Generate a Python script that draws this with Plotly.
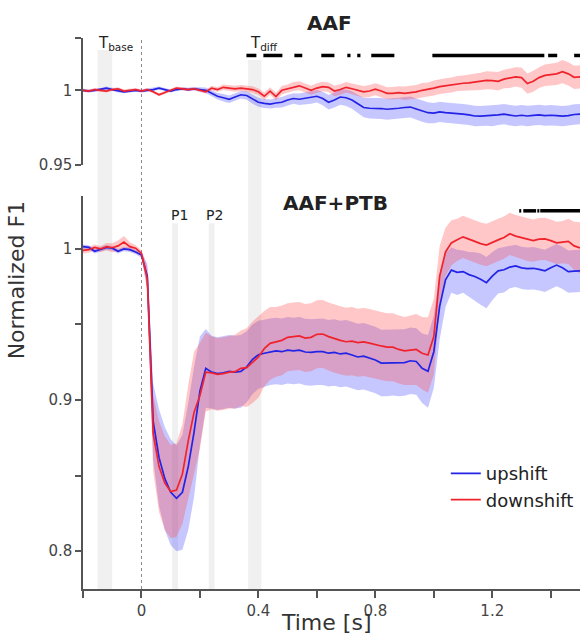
import plotly.graph_objects as go

# ---------------- data ----------------
t = [round(-0.2 + 0.02 * i, 2) for i in range(86)]

# AAF panel (top)
aaf_up = [1.0000, 0.9995, 1.0000, 1.0005, 1.0015, 1.0005, 0.9995, 0.9990, 0.9995, 1.0000,
          0.9995, 1.0000, 1.0005, 1.0015, 1.0005, 0.9995, 1.0005, 1.0010, 1.0005, 1.0010,
          1.0005, 1.0000, 0.9980, 0.9960, 0.9950, 0.9940, 0.9955, 0.9970, 0.9965, 0.9940,
          0.9920, 0.9912, 0.9908, 0.9915, 0.9920, 0.9935, 0.9945, 0.9940, 0.9945, 0.9950,
          0.9960, 0.9945, 0.9920, 0.9935, 0.9955, 0.9950, 0.9935, 0.9910, 0.9885, 0.9880,
          0.9880, 0.9878, 0.9873, 0.9875, 0.9880, 0.9885, 0.9888, 0.9875, 0.9860, 0.9850,
          0.9847, 0.9855, 0.9850, 0.9848, 0.9845, 0.9840, 0.9835, 0.9828, 0.9827, 0.9830,
          0.9828, 0.9835, 0.9840, 0.9832, 0.9828, 0.9833, 0.9828, 0.9832, 0.9835, 0.9830,
          0.9833, 0.9830, 0.9827, 0.9830, 0.9838, 0.9840]
aaf_up_err = [0.0010] * 10 + \
    [0.0010] * 8 + [0.0012, 0.0012] + \
    [0.0015, 0.0018, 0.0020, 0.0022, 0.0025, 0.0025, 0.0025, 0.0025, 0.0028, 0.0030] + \
    [0.0030, 0.0030, 0.0030, 0.0032, 0.0035, 0.0035, 0.0035, 0.0038, 0.0040, 0.0040] + \
    [0.0042, 0.0045, 0.0048, 0.0050, 0.0052, 0.0055, 0.0058, 0.0060, 0.0065, 0.0068] + \
    [0.0070] * 10 + [0.0068] * 10 + [0.0068] * 10 + [0.0068] * 6

aaf_dn = [1.0000, 0.9995, 1.0005, 1.0000, 0.9995, 1.0005, 1.0010, 0.9995, 1.0000, 1.0005,
          0.9995, 1.0005, 0.9990, 0.9970, 0.9985, 1.0000, 1.0015, 1.0010, 1.0005, 1.0010,
          1.0000, 0.9990, 1.0015, 1.0005, 1.0020, 1.0015, 1.0010, 1.0015, 1.0010, 1.0005,
          0.9990, 0.9960, 0.9995, 0.9958, 1.0000, 1.0010, 1.0025, 1.0030, 1.0015, 1.0000,
          1.0015, 1.0025, 1.0020, 0.9995, 1.0005, 1.0020, 1.0010, 1.0000, 0.9990, 0.9995,
          1.0007, 0.9995, 0.9980, 0.9980, 0.9985, 0.9980, 0.9985, 0.9990, 1.0000, 1.0005,
          1.0015, 1.0025, 1.0030, 1.0035, 1.0045, 1.0047, 1.0050, 1.0055, 1.0060, 1.0067,
          1.0065, 1.0060, 1.0075, 1.0080, 1.0090, 1.0085, 1.0045, 1.0060, 1.0085, 1.0100,
          1.0105, 1.0110, 1.0125, 1.0110, 1.0087, 1.0090]
aaf_dn_err = [0.0010] * 10 + [0.0010] * 10 + \
    [0.0012, 0.0012, 0.0015, 0.0015, 0.0018, 0.0018, 0.0020, 0.0020, 0.0020, 0.0022] + \
    [0.0022, 0.0025, 0.0025, 0.0025, 0.0028, 0.0028, 0.0030, 0.0030, 0.0030, 0.0030] + \
    [0.0032, 0.0032, 0.0032, 0.0035, 0.0035, 0.0035, 0.0035, 0.0038, 0.0038, 0.0040] + \
    [0.0040, 0.0040, 0.0040, 0.0042, 0.0042, 0.0045, 0.0045, 0.0045, 0.0048, 0.0048] + \
    [0.0050, 0.0050, 0.0050, 0.0050, 0.0050, 0.0052, 0.0055, 0.0055, 0.0058, 0.0060] + \
    [0.0060, 0.0062, 0.0062, 0.0065, 0.0065, 0.0068, 0.0068, 0.0070, 0.0070, 0.0072] + \
    [0.0075, 0.0075, 0.0078, 0.0078, 0.0078, 0.0078]

# AAF+PTB panel (bottom)
ptb_up = [1.0015, 1.0010, 0.9985, 1.0000, 1.0010, 1.0005, 0.9985, 1.0000, 0.9995, 0.9980,
          0.9960, 0.9820, 0.8860, 0.8620, 0.8480, 0.8390, 0.8350, 0.8390, 0.8560, 0.8790,
          0.9060, 0.9210, 0.9185, 0.9175, 0.9180, 0.9190, 0.9185, 0.9190, 0.9220, 0.9270,
          0.9300, 0.9310, 0.9320, 0.9325, 0.9320, 0.9330, 0.9325, 0.9330, 0.9318, 0.9315,
          0.9320, 0.9320, 0.9310, 0.9315, 0.9305, 0.9310, 0.9298, 0.9285, 0.9290, 0.9280,
          0.9265, 0.9245, 0.9245, 0.9250, 0.9245, 0.9248, 0.9260, 0.9255, 0.9210, 0.9190,
          0.9320, 0.9620, 0.9795, 0.9860, 0.9845, 0.9850, 0.9830, 0.9818, 0.9800, 0.9777,
          0.9820, 0.9855, 0.9862, 0.9880, 0.9888, 0.9875, 0.9870, 0.9872, 0.9865, 0.9855,
          0.9875, 0.9893, 0.9875, 0.9850, 0.9853, 0.9855]
ptb_up_err = [0.0015] * 10 + \
    [0.0020, 0.0080, 0.0250, 0.0320, 0.0340, 0.0350, 0.0350, 0.0380, 0.0420, 0.0430] + \
    [0.0360, 0.0260, 0.0240, 0.0240, 0.0240, 0.0240, 0.0240, 0.0240, 0.0235, 0.0230] + \
    [0.0225, 0.0225] + [0.0220] * 8 + \
    [0.0220] * 10 + \
    [0.0220] * 8 + [0.0230, 0.0240] + \
    [0.0240, 0.0220, 0.0180, 0.0150, 0.0150, 0.0140, 0.0150, 0.0160, 0.0170, 0.0170] + \
    [0.0160, 0.0150, 0.0150] + [0.0140] * 7 + \
    [0.0140] * 6

ptb_dn = [0.9990, 0.9995, 1.0010, 1.0000, 1.0015, 1.0008, 1.0020, 1.0045, 1.0015, 1.0005,
          0.9970, 0.9800, 0.8780, 0.8560, 0.8450, 0.8395, 0.8405, 0.8510, 0.8730, 0.8920,
          0.9030, 0.9185, 0.9180, 0.9170, 0.9175, 0.9185, 0.9188, 0.9210, 0.9215, 0.9250,
          0.9285, 0.9340, 0.9375, 0.9385, 0.9395, 0.9415, 0.9420, 0.9424, 0.9410, 0.9415,
          0.9435, 0.9437, 0.9420, 0.9405, 0.9395, 0.9386, 0.9390, 0.9380, 0.9385, 0.9377,
          0.9365, 0.9358, 0.9350, 0.9350, 0.9335, 0.9325, 0.9330, 0.9335, 0.9310, 0.9298,
          0.9420, 0.9820, 0.9980, 1.0040, 1.0060, 1.0080, 1.0065, 1.0049, 1.0035, 1.0026,
          1.0045, 1.0060, 1.0075, 1.0100, 1.0085, 1.0075, 1.0060, 1.0055, 1.0065, 1.0066,
          1.0055, 1.0040, 1.0045, 1.0050, 1.0020, 1.0007]
ptb_dn_err = [0.0020, 0.0020, 0.0020, 0.0020, 0.0025, 0.0030, 0.0035, 0.0040, 0.0030, 0.0020] + \
    [0.0020, 0.0080, 0.0250, 0.0300, 0.0310, 0.0310, 0.0310, 0.0330, 0.0370, 0.0400] + \
    [0.0350, 0.0260, 0.0240, 0.0240, 0.0240, 0.0240, 0.0245, 0.0250, 0.0260, 0.0270] + \
    [0.0270, 0.0250, 0.0240, 0.0230, 0.0230] + [0.0225] * 5 + \
    [0.0225] * 10 + \
    [0.0225] * 6 + [0.0230, 0.0235, 0.0240, 0.0250] + \
    [0.0250, 0.0200, 0.0160, 0.0150] + [0.0140] * 6 + \
    [0.0140] * 10 + \
    [0.0140, 0.0140, 0.0140, 0.0150, 0.0160, 0.0170]

# significance intervals (s)
sig_aaf = [(0.359, 0.393), (0.417, 0.482), (0.523, 0.550), (0.615, 0.660),
           (0.704, 0.715), (0.738, 0.749), (0.786, 0.865), (0.995, 1.378),
           (1.391, 1.422), (1.480, 1.500)]
sig_ptb = [(1.292, 1.299), (1.306, 1.350), (1.354, 1.361), (1.364, 1.500)]

# analysis windows (s)
windows = {"T_base": (-0.15, -0.10), "T_diff": (0.365, 0.41),
           "P1": (0.105, 0.125), "P2": (0.23, 0.25)}

series_names = ["upshift", "downshift"]
x_ticks = [-0.2, 0, 0.2, 0.4, 0.6, 0.8, 1.0, 1.2, 1.4]
x_ticktext = ["", "0", "", "0.4", "", "0.8", "", "1.2", ""]

# ---------------- styles ----------------
BLUE = "rgb(35,35,230)"
RED = "rgb(240,35,45)"
BLUE_FILL = "rgba(70,70,255,0.30)"
RED_FILL = "rgba(255,70,70,0.30)"
AX = "#555555"
FONT = "DejaVu Sans"

fig = go.Figure()


def band(x, m, e, fill, xa, ya):
    up = [a + b for a, b in zip(m, e)]
    lo = [a - b for a, b in zip(m, e)]
    fig.add_trace(go.Scatter(x=x + x[::-1], y=up + lo[::-1], fill="toself",
                             fillcolor=fill, line=dict(width=0), hoverinfo="skip",
                             showlegend=False, xaxis=xa, yaxis=ya, mode="lines"))


def line(x, m, color, name, xa, ya, legend):
    fig.add_trace(go.Scatter(x=x, y=m, mode="lines", line=dict(color=color, width=1.7),
                             name=name, showlegend=legend, xaxis=xa, yaxis=ya))


def sig(intervals, level, xa, ya):
    xs, ys = [], []
    for a, b in intervals:
        xs += [a, b, None]
        ys += [level, level, None]
    fig.add_trace(go.Scatter(x=xs, y=ys, mode="lines", line=dict(color="black", width=3.5),
                             showlegend=False, hoverinfo="skip", xaxis=xa, yaxis=ya))


# top panel
band(t, aaf_up, aaf_up_err, BLUE_FILL, "x", "y")
band(t, aaf_dn, aaf_dn_err, RED_FILL, "x", "y")
line(t, aaf_up, BLUE, series_names[0], "x", "y", False)
line(t, aaf_dn, RED, series_names[1], "x", "y", False)
sig(sig_aaf, 1.0233, "x", "y")

# bottom panel
band(t, ptb_up, ptb_up_err, BLUE_FILL, "x2", "y2")
band(t, ptb_dn, ptb_dn_err, RED_FILL, "x2", "y2")
line(t, ptb_up, BLUE, series_names[0], "x2", "y2", True)
line(t, ptb_dn, RED, series_names[1], "x2", "y2", True)
sig(sig_ptb, 1.0252, "x2", "y2")

# gray analysis windows and zero line
shapes = []
tops = {"T_base": 0.978, "T_diff": 0.96, "P1": 0.664, "P2": 0.664}
for k, (a, b) in windows.items():
    shapes.append(dict(type="rect", xref="x2", yref="paper", x0=a, x1=b, y0=0, y1=tops[k],
                       fillcolor="rgb(240,240,240)", line=dict(width=0), layer="below"))
shapes.append(dict(type="line", xref="x2", yref="paper", x0=0, x1=0, y0=0, y1=1,
                   line=dict(color="#8a8a8a", width=1, dash="dot"), layer="below"))

annotations = [
    dict(text="<b>AAF</b>", x=0.495, y=1.028, xref="paper", yref="paper", showarrow=False,
         xanchor="center", yanchor="middle", font=dict(size=20, color="#222")),
    dict(text="<b>AAF+PTB</b>", x=0.509, y=0.7005, xref="paper", yref="paper", showarrow=False,
         xanchor="center", yanchor="middle", font=dict(size=20, color="#222")),
    dict(text="T<sub>base</sub>", x=-0.155, y=0.99, xref="x2", yref="paper", xanchor="left",
         yanchor="middle", showarrow=False, font=dict(size=15, color="#222")),
    dict(text="T<sub>diff</sub>", x=0.364, y=0.99, xref="x2", yref="paper", xanchor="left",
         yanchor="middle", showarrow=False, font=dict(size=15, color="#222")),
    dict(text="P1", x=0.13, y=0.679, xref="x2", yref="paper", showarrow=False,
         xanchor="center", yanchor="middle", font=dict(size=14, color="#222")),
    dict(text="P2", x=0.25, y=0.679, xref="x2", yref="paper", showarrow=False,
         xanchor="center", yanchor="middle", font=dict(size=14, color="#222")),
    dict(text="Normalized F1", x=-0.133, y=0.56, xref="paper", yref="paper", textangle=-90,
         xanchor="center", yanchor="middle", showarrow=False, font=dict(size=22, color="#333")),
    dict(text="Time [s]", x=0.632, y=-0.06, xref="x2", yref="paper", showarrow=False,
         xanchor="center", yanchor="middle", font=dict(size=22, color="#333")),
]

yax = dict(showline=True, linecolor=AX, linewidth=1.5, ticks="outside", ticklen=6,
           tickwidth=1.5, tickcolor=AX, showgrid=False, zeroline=False,
           tickfont=dict(size=15, color="#444"))

fig.update_layout(
    width=580, height=637,
    margin=dict(l=83, r=0, t=38, b=48),
    paper_bgcolor="white", plot_bgcolor="white",
    font=dict(family=FONT, color="#333"),
    xaxis=dict(domain=[0, 1], anchor="y", range=[-0.2, 1.5], visible=False),
    yaxis=dict(domain=[0.7695, 1], anchor="x", range=[0.95, 1.035],
               tickvals=[0.95, 1.0, 1.035], ticktext=["0.95", "1", ""], **yax),
    xaxis2=dict(domain=[0, 1], anchor="y2", range=[-0.2, 1.5], showline=True,
                linecolor=AX, linewidth=1.5, ticks="outside", ticklen=7, tickwidth=1.5,
                tickcolor=AX, showgrid=False, zeroline=False, tickvals=x_ticks,
                ticktext=x_ticktext, tickfont=dict(size=15, color="#444")),
    yaxis2=dict(domain=[0, 0.7132], anchor="x2", range=[0.775, 1.035],
                tickvals=[0.8, 0.85, 0.9, 0.95, 1.0], ticktext=["0.8", "", "0.9", "", "1"], **yax),
    shapes=shapes,
    annotations=annotations,
    legend=dict(x=0.73, y=0.243, xanchor="left", yanchor="top", bgcolor="rgba(0,0,0,0)",
                font=dict(size=18, color="#222")),
    showlegend=True,
)

fig.write_html("out.html", config={"displayModeBar": False},
               post_script="document.body.style.margin='0';")
